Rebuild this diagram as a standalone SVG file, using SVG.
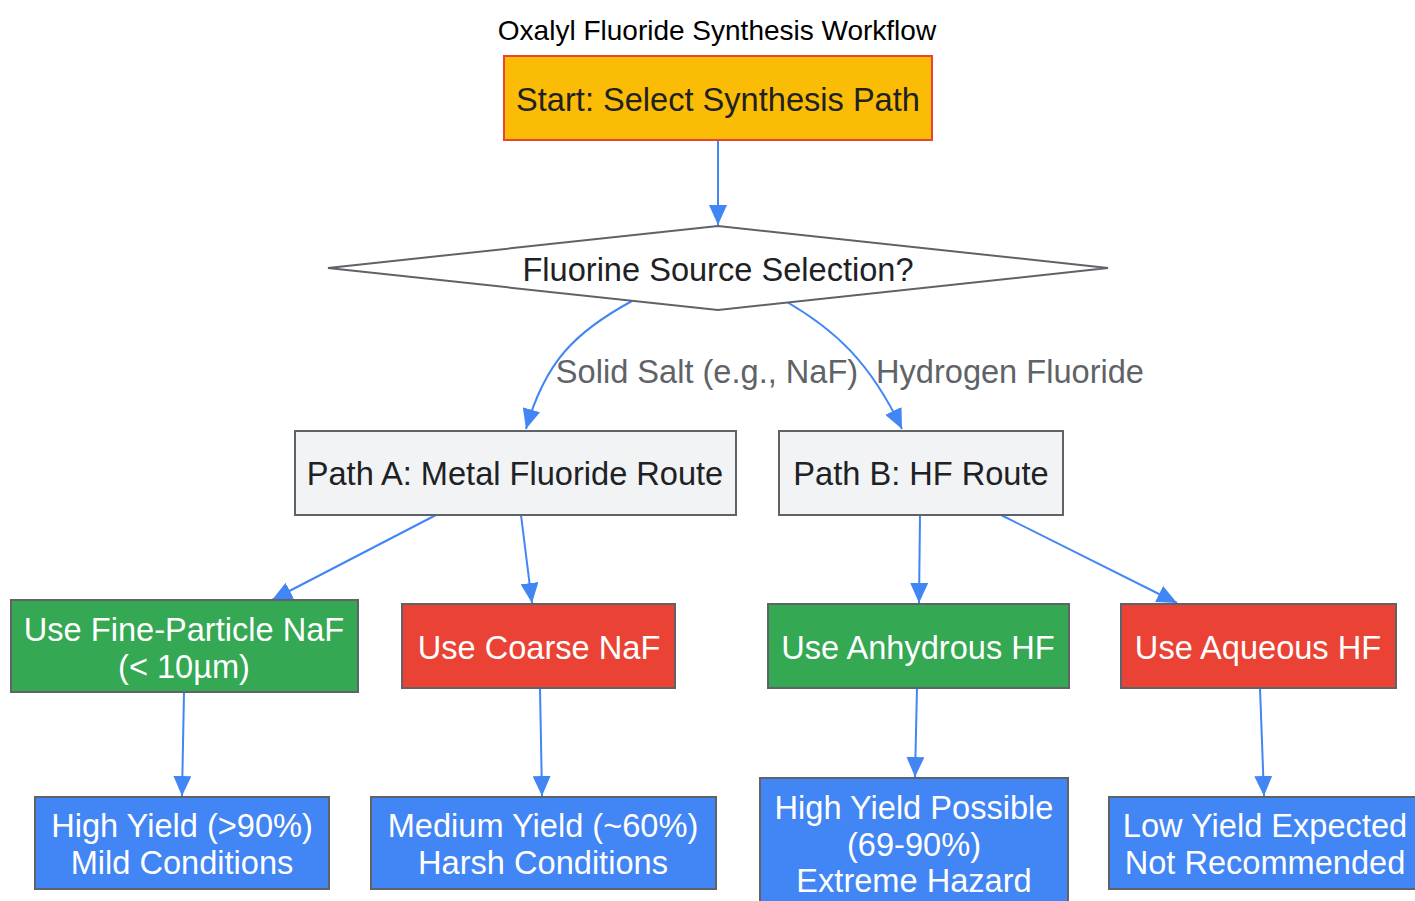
<svg xmlns="http://www.w3.org/2000/svg" width="1415" height="901" viewBox="0 0 1415 901">
<defs>
<style>
text{font-family:"Liberation Sans",Arial,sans-serif;text-anchor:middle}
.t{font-size:32.6px;fill:#202124}
.w{font-size:32.6px;fill:#ffffff}
.lbl{font-size:32.6px;fill:#5f6368}
.title{font-size:28px;fill:#000000}
.n{stroke:#5f6368;stroke-width:2}
.gray{fill:#f1f3f4}
.green{fill:#34a853}
.red{fill:#ea4335}
.blue{fill:#4285f4}
.e{fill:none;stroke:#4285f4;stroke-width:2;marker-end:url(#ah)}
</style>
<marker id="ah" viewBox="0 0 20 18" refX="20" refY="9" markerUnits="userSpaceOnUse" markerWidth="20" markerHeight="18" orient="auto">
<path d="M0,0 L20,9 L0,18 z" fill="#4285f4"/>
</marker>
</defs>
<rect width="1415" height="901" fill="#ffffff"/>
<text class="title" x="717" y="40">Oxalyl Fluoride Synthesis Workflow</text>

<g id="connectors">
<path class="e" d="M718,140 L718,225"/>
<path class="e" d="M632,301 C575,332 545,362 526,429"/>
<path class="e" d="M787,302 C835,330 870,362 902,429"/>
<path class="e" d="M436,515 L272,600"/>
<path class="e" d="M521,515 L532,603"/>
<path class="e" d="M920,515 L919,603"/>
<path class="e" d="M1001,515 L1177,603"/>
<path class="e" d="M184,692 L182,796"/>
<path class="e" d="M540,688 L542,796"/>
<path class="e" d="M917,688 L915,777"/>
<path class="e" d="M1260,688 L1264,796"/>
<text class="lbl" x="707" y="383">Solid Salt (e.g., NaF)</text>
<text class="lbl" x="1010" y="383">Hydrogen Fluoride</text>
</g>

<g id="start">
<rect x="504" y="56" width="428" height="84" fill="#fbbc05" stroke="#ea4335" stroke-width="2"/>
<text class="t" x="718" y="111">Start: Select Synthesis Path</text>
</g>

<g id="decision">
<polygon points="718,226 1108,268 718,310 328,268" fill="#ffffff" stroke="#5f6368" stroke-width="2"/>
<text class="t" x="718" y="281">Fluorine Source Selection?</text>
</g>

<g id="pathA">
<rect class="n gray" x="295" y="431" width="441" height="84"/>
<text class="t" x="515" y="485">Path A: Metal Fluoride Route</text>
</g>

<g id="pathB">
<rect class="n gray" x="779" y="431" width="284" height="84"/>
<text class="t" x="921" y="485">Path B: HF Route</text>
</g>

<g id="fineNaF">
<rect class="n green" x="11" y="600" width="347" height="92"/>
<text class="w" x="184" y="641">Use Fine-Particle NaF</text>
<text class="w" x="184" y="678">(&lt; 10µm)</text>
</g>

<g id="coarseNaF">
<rect class="n red" x="402" y="604" width="273" height="84"/>
<text class="w" x="539" y="659">Use Coarse NaF</text>
</g>

<g id="anhydrousHF">
<rect class="n green" x="768" y="604" width="301" height="84"/>
<text class="w" x="918" y="659">Use Anhydrous HF</text>
</g>

<g id="aqueousHF">
<rect class="n red" x="1121" y="604" width="275" height="84"/>
<text class="w" x="1258" y="659">Use Aqueous HF</text>
</g>

<g id="highYield">
<rect class="n blue" x="35" y="797" width="294" height="92"/>
<text class="w" x="182" y="837">High Yield (&gt;90%)</text>
<text class="w" x="182" y="874">Mild Conditions</text>
</g>

<g id="mediumYield">
<rect class="n blue" x="371" y="797" width="345" height="92"/>
<text class="w" x="543" y="837">Medium Yield (~60%)</text>
<text class="w" x="543" y="874">Harsh Conditions</text>
</g>

<g id="highYieldPossible">
<rect class="n blue" x="760" y="778" width="308" height="130"/>
<text class="w" x="914" y="819">High Yield Possible</text>
<text class="w" x="914" y="856">(69-90%)</text>
<text class="w" x="914" y="892">Extreme Hazard</text>
</g>

<g id="lowYield">
<rect class="n blue" x="1109" y="797" width="312" height="92"/>
<text class="w" x="1265" y="837">Low Yield Expected</text>
<text class="w" x="1265" y="874">Not Recommended</text>
</g>
</svg>
